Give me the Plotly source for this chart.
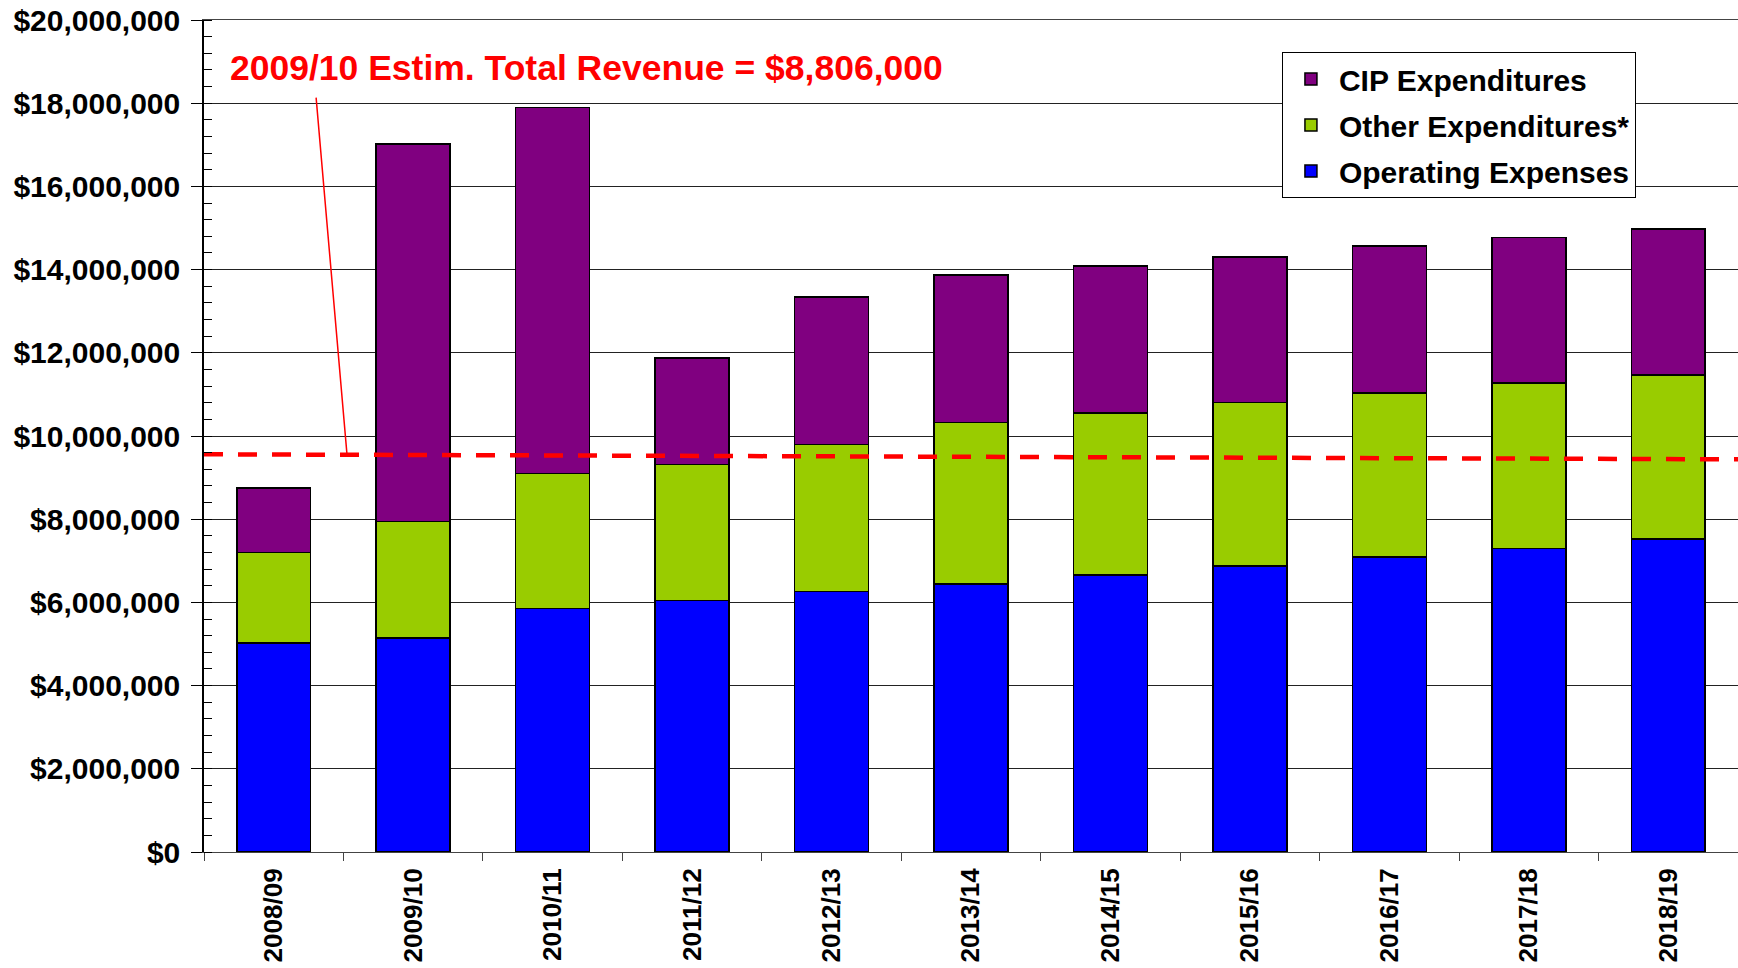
import plotly.graph_objects as go

# ---- data ----
years = ["2008/09", "2009/10", "2010/11", "2011/12", "2012/13", "2013/14",
         "2014/15", "2015/16", "2016/17", "2017/18", "2018/19"]
operating = [5.02e6, 5.15e6, 5.85e6, 6.05e6, 6.26e6, 6.44e6,
             6.66e6, 6.87e6, 7.09e6, 7.30e6, 7.52e6]
other_top = [7.20e6, 7.95e6, 9.10e6, 9.32e6, 9.80e6, 10.33e6,
             10.55e6, 10.81e6, 11.03e6, 11.28e6, 11.47e6]
total_top = [8.75e6, 17.02e6, 17.90e6, 11.88e6, 13.34e6, 13.87e6,
             14.09e6, 14.30e6, 14.57e6, 14.77e6, 14.98e6]
other = [t - o for t, o in zip(other_top, operating)]
cip = [t - g for t, g in zip(total_top, other_top)]

revenue_line_x = [0, 1]
revenue_line_y = [9.56e6, 9.44e6]
y_ticks = list(range(0, 20000001, 2000000))
y_tick_text = ["$" + format(v, ",") for v in y_ticks]

annot_text = "2009/10 Estim. Total Revenue = $8,806,000"
pointer_from = (0.303, 18.17e6)
pointer_to = (0.525, 9.57e6)

FONT = "Liberation Sans, Arial, sans-serif"
outline = dict(color="black", width=1.5)

fig = go.Figure()
fig.add_trace(go.Bar(x=years, y=operating, name="Operating Expenses",
                     legendgroup="c", legendrank=3,
                     marker=dict(color="#0000FF", line=outline)))
fig.add_trace(go.Bar(x=years, y=other, name="Other Expenditures*",
                     legendgroup="b", legendrank=2,
                     marker=dict(color="#99CC00", line=outline)))
fig.add_trace(go.Bar(x=years, y=cip, name="CIP Expenditures",
                     legendgroup="a", legendrank=1,
                     marker=dict(color="#800080", line=outline)))
fig.add_trace(go.Scatter(x=revenue_line_x, y=revenue_line_y, xaxis="x2", yaxis="y",
                         mode="lines", showlegend=False, hoverinfo="skip",
                         line=dict(color="#FF0000", width=4.5, dash="19px,15px")))

fig.add_annotation(x=pointer_to[0], y=pointer_to[1], xref="x", yref="y",
                   ax=pointer_from[0], ay=pointer_from[1], axref="x", ayref="y",
                   text="", showarrow=True, arrowhead=0, arrowwidth=1.5,
                   arrowcolor="#FF0000")
fig.add_annotation(x=-0.33, y=18.85e6, xref="x", yref="y", xanchor="left",
                   yanchor="middle", text=annot_text, showarrow=False,
                   font=dict(family=FONT, size=35.5, color="#FF0000", weight="bold"))

fig.update_layout(
    width=1738, height=968,
    margin=dict(l=204, r=0, t=20, b=116, autoexpand=False),
    paper_bgcolor="white", plot_bgcolor="white",
    barmode="stack", bargap=0.47,
    font=dict(family=FONT, color="black"),
    showlegend=True,
    legend=dict(x=0.7027, y=0.9615, xanchor="left", yanchor="top",
                bgcolor="white", bordercolor="black", borderwidth=1,
                traceorder="grouped", tracegroupgap=4, itemwidth=46,
                font=dict(family=FONT, size=30, color="black", weight="bold")),
    xaxis=dict(type="category", tickson="boundaries", ticks="outside",
               ticklen=8, tickcolor="#444", showline=True, linecolor="#444",
               linewidth=1, mirror=True, tickangle=-90, ticklabelstandoff=5,
               automargin=False,
               tickfont=dict(family=FONT, size=26, color="black", weight="bold"),
               showgrid=False, range=[-0.5, 10.5]),
    xaxis2=dict(overlaying="x", range=[0, 1], visible=False),
    yaxis=dict(range=[0, 20000000], tickvals=y_ticks, ticktext=y_tick_text,
               ticks="outside", ticklen=11, tickcolor="black", automargin=False,
               showline=True, linecolor="black", linewidth=1.5,
               showgrid=True, gridcolor="#222", gridwidth=1,
               zeroline=False, ticklabelstandoff=5,
               minor=dict(ticks="inside", dtick=400000, ticklen=8,
                          tickcolor="black", showgrid=False),
               tickfont=dict(family=FONT, size=30, color="black", weight="bold")),
)

fig.write_html("out.html", config={"displayModeBar": False},
               post_script="document.body.style.margin='0';")
